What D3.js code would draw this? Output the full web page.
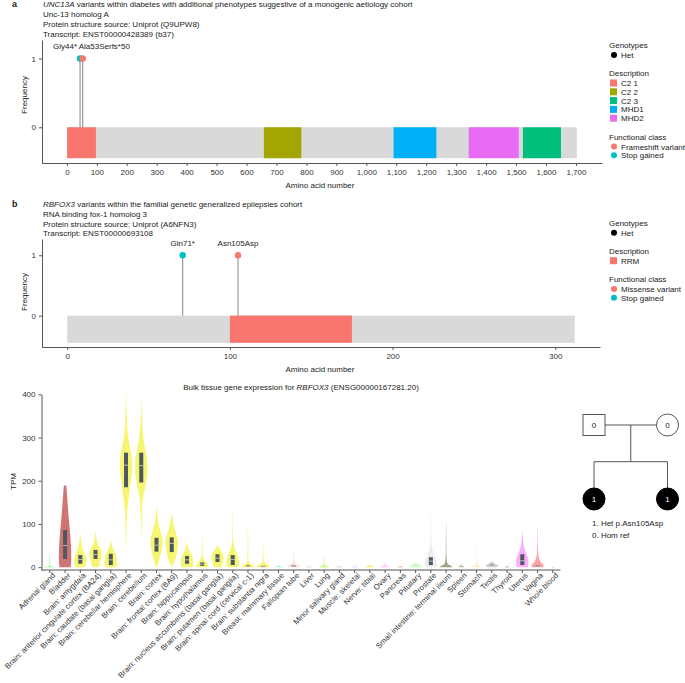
<!DOCTYPE html>
<html>
<head>
<meta charset="utf-8">
<script src="https://cdn.jsdelivr.net/npm/d3@7.9.0/dist/d3.min.js"></script>
<style>
  body { margin: 0; background: #fff; }
  svg { display: block; font-family: "Liberation Sans", Arial, sans-serif; }
  .axis path, .axis line { stroke: #555; }
  .axis text { fill: #333; font-size: 8px; font-family: "Liberation Sans", Arial, sans-serif; }
  text { fill: #222; }
</style>
</head>
<body>
<svg width="685" height="683"></svg>
<script>
// ---- panel a : UNC13A ----
const uncLength = 1703;
const uncDomainNames = ['C2 1', 'C2 2', 'MHD1', 'MHD2', 'C2 3'];
const uncDomainStart = [1, 658, 1091, 1342, 1523];
const uncDomainEnd = [97, 783, 1234, 1509, 1650];
const uncVariantNames = ['Gly44*', 'Ala53Serfs*50'];
const uncVariantPos = [44, 53];
const uncVariantClass = ['Stop gained', 'Frameshift variant'];
const uncVariantFreq = [1, 1];
const uncTicks = d3.range(0, 1701, 100);

// ---- panel b : RBFOX3 ----
const rbLength = 312;
const rbDomainNames = ['RRM'];
const rbDomainStart = [100];
const rbDomainEnd = [175];
const rbVariantNames = ['Gln71*', 'Asn105Asp'];
const rbVariantPos = [71, 105];
const rbVariantClass = ['Stop gained', 'Missense variant'];
const rbVariantFreq = [1, 1];
const rbTicks = [0, 100, 200, 300];

// ---- panel c : GTEx bulk expression ----
const tissues = ['Adrenal gland', 'Bladder', 'Brain: amygdala', 'Brain: anterior cingulate cortex (BA24)',
  'Brain: caudate (basal ganglia)', 'Brain: cerebellar hemisphere', 'Brain: cerebellum', 'Brain: cortex',
  'Brain: frontal cortex (BA9)', 'Brain: hippocampus', 'Brain: hypothalamus',
  'Brain: nucleus accumbens (basal ganglia)', 'Brain: putamen (basal ganglia)',
  'Brain: spinal cord (cervical c-1)', 'Brain: substantia nigra', 'Breast: mammary tissue',
  'Fallopian tube', 'Liver', 'Lung', 'Minor salivary gland', 'Muscle: skeletal', 'Nerve: tibial',
  'Ovary', 'Pancreas', 'Pituitary', 'Prostate', 'Small intestine: terminal ileum', 'Spleen',
  'Stomach', 'Testis', 'Thyroid', 'Uterus', 'Vagina', 'Whole blood'];
const tissueColors = ['#33DD33', '#AA0000', '#EEEE00', '#EEEE00', '#EEEE00', '#EEEE00', '#EEEE00', '#EEEE00',
  '#EEEE00', '#EEEE00', '#EEEE00', '#EEEE00', '#EEEE00', '#EEEE00', '#EEEE00', '#33CCCC',
  '#FFCCCC', '#AABB66', '#99FF00', '#99BB88', '#AAAAFF', '#FFD700', '#FFAAFF', '#995522',
  '#AAFF99', '#DDDDDD', '#555522', '#778855', '#FFDD99', '#AAAAAA', '#006600', '#FF66FF',
  '#FF5555', '#FF00BB'];
// violin outline per tissue: [TPM, relative half width]
const violinProfiles = [
  [[0, 1], [1, 0.6], [3, 0.05], [29, 0.03]],
  [[0, 0.9], [20, 1], [50, 0.95], [80, 0.8], [100, 0.68], [130, 0.5], [160, 0.35], [189, 0.2]],
  [[0, 0.7], [8, 0.95], [18, 1], [30, 0.7], [45, 0.35], [60, 0.15], [77, 0.03]],
  [[0, 0.5], [15, 0.8], [30, 1], [42, 0.75], [55, 0.35], [70, 0.12], [82, 0.03]],
  [[0, 0.9], [8, 1], [20, 0.95], [32, 0.7], [45, 0.3], [61, 0.03]],
  [[44, 0.03], [120, 0.15], [180, 0.6], [220, 0.95], [240, 1], [270, 0.75], [300, 0.35], [340, 0.15], [400, 0.02]],
  [[75, 0.03], [150, 0.2], [190, 0.7], [225, 1], [250, 0.95], [280, 0.55], [320, 0.2], [387, 0.02]],
  [[1, 0.1], [20, 0.5], [45, 0.9], [60, 1], [80, 0.7], [100, 0.35], [120, 0.12], [142, 0.02]],
  [[3, 0.1], [20, 0.6], [45, 0.95], [60, 1], [80, 0.65], [100, 0.3], [123, 0.02]],
  [[0, 0.9], [10, 1], [25, 0.85], [35, 0.5], [45, 0.2], [59, 0.02]],
  [[0, 0.9], [4, 1], [10, 0.7], [18, 0.3], [30, 0.08], [72, 0.02]],
  [[0, 0.6], [10, 0.8], [22, 1], [32, 0.8], [42, 0.35], [52, 0.03]],
  [[0, 0.9], [10, 1], [25, 0.85], [35, 0.55], [50, 0.2], [70, 0.06], [129, 0.02]],
  [[0, 0.9], [3, 1], [8, 0.4], [15, 0.1], [90, 0.02]],
  [[0, 0.8], [3, 1], [8, 0.4], [15, 0.1], [52, 0.02]],
  [[0, 0.7], [1, 0.5], [3, 0.02]],
  [[0, 0.9], [3, 1], [8, 0.4], [15, 0.1], [35, 0.02]],
  [[0, 0.5], [1, 0.3], [2, 0.02]],
  [[0, 0.8], [2, 0.5], [5, 0.1], [26, 0.02]],
  [[0, 0.6], [1, 0.4], [3, 0.02]],
  [[0, 0.5], [1, 0.3], [2, 0.02]],
  [[0, 0.7], [2, 0.5], [4, 0.1], [8, 0.02]],
  [[0, 0.8], [2, 0.6], [5, 0.2], [12, 0.02]],
  [[0, 0.5], [1, 0.3], [2, 0.02]],
  [[0, 0.9], [3, 1], [6, 0.5], [11, 0.02]],
  [[0, 0.8], [8, 1], [18, 0.8], [30, 0.45], [45, 0.2], [70, 0.06], [140, 0.02]],
  [[0, 1], [2, 0.9], [6, 0.4], [12, 0.15], [30, 0.06], [100, 0.02]],
  [[0, 0.6], [2, 0.3], [6, 0.02]],
  [[0, 0.8], [2, 0.6], [5, 0.2], [10, 0.06], [49, 0.02]],
  [[0, 0.7], [4, 1], [8, 0.5], [13, 0.02]],
  [[0, 0.4], [1, 0.2], [2, 0.02]],
  [[0, 0.9], [10, 1], [22, 0.9], [32, 0.6], [45, 0.3], [60, 0.12], [85, 0.02]],
  [[0, 0.9], [4, 1], [10, 0.6], [20, 0.25], [35, 0.08], [90, 0.02]],
  [[0, 0.3], [0.5, 0.1], [1, 0.02]]
];
// box: q1, median, q3 (null = too small to see)
const boxQ1 = [null, 19, 8, 19, 5, 185, 196, 36, 35, 8, 3, 12, 5, 2, 1, null, 1, null, null, null, null, null,
  null, null, null, 5, null, null, null, 3, null, 5, 1, null];
const boxMedian = [null, 50, 18, 29, 17, 236, 235, 51, 55, 17, 7, 21, 18, 3, 2, null, 2, null, null, null, null, null,
  null, null, null, 14, null, null, null, 4, null, 15, 2, null];
const boxQ3 = [null, 86, 28, 40, 31, 265, 265, 68, 69, 26, 11, 30, 28, 5, 3, null, 4, null, null, null, null, null,
  null, null, null, 23, null, null, null, 6, null, 30, 4, null];
const tpmTicks = [0, 100, 200, 300, 400];

// ---- pedigree ----
const pedGeneration = [0, 0, 1, 1];
const pedSlot = [0, 1, 0, 1];
const pedSex = ['M', 'F', 'F', 'F'];
const pedGenotype = [0, 0, 1, 1];
const pedKey = ['1. Het p.Asn105Asp', '0. Hom ref'];

const domainColors = d3.scaleOrdinal()
  .domain(['C2 1', 'C2 2', 'C2 3', 'MHD1', 'MHD2'])
  .range(['#F8766D', '#A3A500', '#00BF7D', '#00B0F6', '#E76BF3']);

let svg = d3.select('svg');

function titleBlock(letter, lines, x, y0) {
  svg.append('text').attr('x', x - 31).attr('y', y0)
    .style('font-size', '9px').style('font-weight', 'bold').text(letter);
  lines.forEach((ln, i) => {
    let t = svg.append('text').attr('x', x).attr('y', y0 + i * 9.8).style('font-size', '8px');
    ln.forEach(part => {
      t.append('tspan').style('font-style', part[1] ? 'italic' : 'normal').text(part[0]);
    });
  });
}

function lollipop(cfg) {
  let x = d3.scaleLinear().domain(cfg.xDomain).range([42, cfg.xEnd]);
  let y = d3.scaleLinear().domain([-0.52, 1.27]).range([cfg.bottom, cfg.top]);
  let clsColor = d3.scaleOrdinal().domain(cfg.classOrder).range(['#F8766D', '#00BFC4']);

  svg.append('g').attr('class', 'axis')
    .attr('transform', `translate(0,${cfg.bottom})`)
    .call(d3.axisBottom(x).tickValues(cfg.ticks).tickSize(3).tickSizeOuter(0).tickFormat(d3.format(',')));
  svg.append('g').attr('class', 'axis')
    .attr('transform', 'translate(42,0)')
    .call(d3.axisLeft(y).tickValues([0, 1]).tickSize(3).tickSizeOuter(0).tickFormat(d3.format('d')));

  // protein backbone + domains
  svg.append('rect')
    .attr('x', x(0)).attr('width', x(cfg.length) - x(0))
    .attr('y', y(0)).attr('height', y(-0.45) - y(0))
    .attr('fill', '#D9D9D9');
  cfg.domainNames.forEach((name, i) => {
    svg.append('rect')
      .attr('x', x(cfg.domainStart[i])).attr('width', x(cfg.domainEnd[i]) - x(cfg.domainStart[i]))
      .attr('y', y(0)).attr('height', y(-0.45) - y(0))
      .attr('fill', domainColors(name));
  });

  // variants
  let close = Math.abs(x(cfg.varPos[1]) - x(cfg.varPos[0])) < 20;
  cfg.varNames.forEach((name, i) => {
    let px = x(cfg.varPos[i]);
    svg.append('line')
      .attr('x1', px).attr('x2', px).attr('y1', y(cfg.varFreq[i])).attr('y2', y(0))
      .attr('stroke', '#777').attr('stroke-width', 0.9);
    svg.append('circle')
      .attr('cx', px).attr('cy', y(cfg.varFreq[i])).attr('r', 3.2)
      .attr('fill', clsColor(cfg.varClass[i]));
    let lbl = svg.append('text')
      .attr('y', y(cfg.varFreq[i]) - 9.5).style('font-size', '8px').text(name);
    if (close) {
      lbl.attr('x', i === 0 ? px - 3 : px - 4).attr('text-anchor', i === 0 ? 'end' : 'start');
    } else {
      lbl.attr('x', px).attr('text-anchor', 'middle');
    }
  });

  svg.append('text').attr('x', 320).attr('y', cfg.bottom + 24.5)
    .attr('text-anchor', 'middle').style('font-size', '8px').text('Amino acid number');
  svg.append('text')
    .attr('transform', `translate(27,${cfg.yLabelY}) rotate(-90)`)
    .attr('text-anchor', 'middle').style('font-size', '8px').text('Frequency');

  // legend
  let lx = 609, ly = cfg.legendTop;
  let head = (t, yy) => svg.append('text').attr('x', lx).attr('y', yy).style('font-size', '8px').text(t);
  let item = (t, yy) => svg.append('text').attr('x', lx + 12).attr('y', yy + 3).style('font-size', '8px').text(t);
  head('Genotypes', ly);
  svg.append('circle').attr('cx', lx + 5).attr('cy', ly + 7).attr('r', 3).attr('fill', '#000');
  item('Het', ly + 7);
  let dy = ly + 28;
  head('Description', dy);
  let descs = domainColors.domain().filter(d => cfg.domainNames.includes(d));
  descs.forEach((d, i) => {
    let cy = dy + 7 + i * 8.8;
    svg.append('rect').attr('x', lx + 1).attr('y', cy - 3.5).attr('width', 7).attr('height', 7)
      .attr('fill', domainColors(d));
    item(d, cy);
  });
  let fy = dy + 7 + (descs.length - 1) * 8.8 + 21.3;
  head('Functional class', fy);
  cfg.classOrder.forEach((c, i) => {
    let cy = fy + 7 + i * 8.8;
    svg.append('circle').attr('cx', lx + 5).attr('cy', cy).attr('r', 3).attr('fill', clsColor(c));
    item(c, cy);
  });
}

titleBlock('a', [
  [['UNC13A', true], [' variants within diabetes with additional phenotypes suggestive of a monogenic aetiology cohort', false]],
  [['Unc-13 homolog A', false]],
  [['Protein structure source: Uniprot (Q9UPW8)', false]],
  [['Transcript: ENST00000428389 (b37)', false]]
], 43, 7.2);
lollipop({
  xDomain: [-83, 1787], xEnd: 602, top: 40, bottom: 163, length: uncLength, ticks: uncTicks,
  domainNames: uncDomainNames, domainStart: uncDomainStart, domainEnd: uncDomainEnd,
  varNames: uncVariantNames, varPos: uncVariantPos, varClass: uncVariantClass, varFreq: uncVariantFreq,
  classOrder: ['Frameshift variant', 'Stop gained'], legendTop: 48, yLabelY: 95
});

titleBlock('b', [
  [['RBFOX3', true], [' variants within the familial genetic generalized epilepsies cohort', false]],
  [['RNA binding fox-1 homolog 3', false]],
  [['Protein structure source: Uniprot (A6NFN3)', false]],
  [['Transcript: ENST00000693108', false]]
], 43, 207);
lollipop({
  xDomain: [-15.5, 327.5], xEnd: 600, top: 239, bottom: 347, length: rbLength, ticks: rbTicks,
  domainNames: rbDomainNames, domainStart: rbDomainStart, domainEnd: rbDomainEnd,
  varNames: rbVariantNames, varPos: rbVariantPos, varClass: rbVariantClass, varFreq: rbVariantFreq,
  classOrder: ['Missense variant', 'Stop gained'], legendTop: 225.7, yLabelY: 292
});

// ---- violin panel ----
let xc = d3.scaleBand().domain(tissues).range([42.2, 560.4]);
let yc = d3.scaleLinear().domain([-6.5, 400]).range([570, 394.3]);
let wc = d3.scaleLinear().domain([0, 1]).range([0, 6.2]);

let t = svg.append('text').attr('x', 301).attr('y', 389.5).attr('text-anchor', 'middle').style('font-size', '8px');
t.append('tspan').text('Bulk tissue gene expression for ');
t.append('tspan').style('font-style', 'italic').text('RBFOX3');
t.append('tspan').text(' (ENSG00000167281.20)');

svg.append('g').attr('class', 'axis').attr('transform', 'translate(41.5,0)')
  .call(d3.axisLeft(yc).tickValues(tpmTicks).tickSize(3).tickSizeOuter(0));
svg.append('text').attr('transform', 'translate(16,481.5) rotate(-90)')
  .attr('text-anchor', 'middle').style('font-size', '8px').text('TPM');

let xAxisG = svg.append('g').attr('class', 'axis').attr('transform', 'translate(0,570)')
  .call(d3.axisBottom(xc).tickSize(3).tickSizeOuter(0));
xAxisG.select('.domain').attr('d', 'M41.5,0H560.4');
xAxisG.selectAll('.tick text')
  .attr('text-anchor', 'end')
  .attr('transform', 'translate(0,0) rotate(-45)')
  .attr('x', 0).attr('y', 3).attr('dy', '0.71em')
  .style('font-size', '7.8px');

tissues.forEach((tis, i) => {
  let cx = xc(tis) + xc.bandwidth() / 2;
  let area = d3.area()
    .y(d => yc(d[0]))
    .x0(d => cx - wc(d[1]))
    .x1(d => cx + wc(d[1]))
    .curve(d3.curveMonotoneY);
  svg.append('path')
    .attr('d', area(violinProfiles[i]))
    .attr('fill', tissueColors[i]).attr('fill-opacity', 0.55);
  if (boxQ1[i] !== null) {
    svg.append('rect')
      .attr('x', cx - 2).attr('width', 4)
      .attr('y', yc(boxQ3[i])).attr('height', Math.max(1.2, yc(boxQ1[i]) - yc(boxQ3[i])))
      .attr('fill', '#4E5860');
    svg.append('line')
      .attr('x1', cx - 2).attr('x2', cx + 2).attr('y1', yc(boxMedian[i])).attr('y2', yc(boxMedian[i]))
      .attr('stroke', '#C8C8C8').attr('stroke-width', 0.9);
  }
});

// ---- pedigree ----
let px = d3.scalePoint().domain([0, 1]).range([594, 667.5]);
let py = d3.scalePoint().domain([0, 1]).range([425, 499]);
let midX = (px(0) + px(1)) / 2;
let sibY = 461.7;
svg.append('path')
  .attr('d', `M${px(0) + 11},${py(0)}H${px(1) - 11}M${midX},${py(0)}V${sibY}M${px(0)},${sibY}H${px(1)}` +
    `M${px(0)},${sibY}V${py(1) - 11}M${px(1)},${sibY}V${py(1) - 11}`)
  .attr('fill', 'none').attr('stroke', '#555').attr('stroke-width', 1);
pedSex.forEach((s, i) => {
  let cx = px(pedSlot[i]), cy = py(pedGeneration[i]);
  let filled = pedGenotype[i] === 1;
  if (s === 'M') {
    svg.append('rect').attr('x', cx - 11).attr('y', cy - 10.5).attr('width', 22).attr('height', 21)
      .attr('fill', '#fff').attr('stroke', '#555');
  } else {
    svg.append('circle').attr('cx', cx).attr('cy', cy).attr('r', 11)
      .attr('fill', filled ? '#000' : '#fff').attr('stroke', filled ? '#000' : '#555');
  }
  svg.append('text').attr('x', cx).attr('y', cy + 3).attr('text-anchor', 'middle')
    .style('font-size', '8px').style('fill', filled ? '#fff' : '#222').text(pedGenotype[i]);
});
pedKey.forEach((k, i) => {
  svg.append('text').attr('x', 592).attr('y', 526 + i * 12).style('font-size', '8px').text(k);
});
</script>
</body>
</html>
